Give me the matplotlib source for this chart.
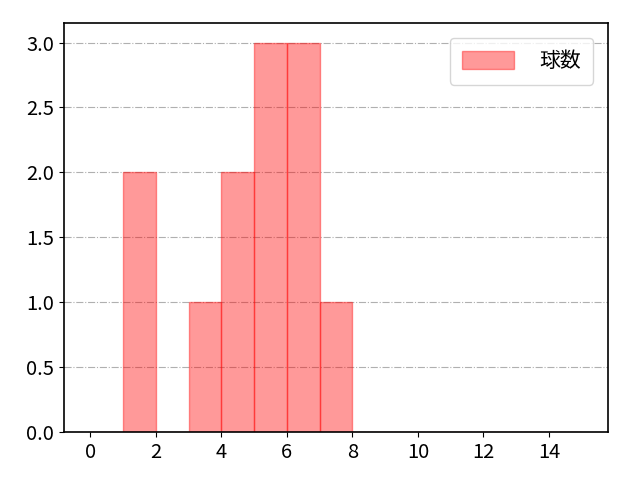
import matplotlib.pyplot as plt
import numpy as np

plt.rcParams['font.family'] = ['Noto Sans CJK JP', 'DejaVu Sans']

# histogram bins (width 1) and counts
bin_edges = np.arange(0, 16)
counts = [0, 2, 0, 1, 2, 3, 3, 1, 0, 0, 0, 0, 0, 0, 0]
label = '球数'

fig, ax = plt.subplots(figsize=(6.4, 4.8), dpi=100)
ax.hist(bin_edges[:-1], bins=bin_edges, weights=counts,
        color='red', alpha=0.4, edgecolor='red', linewidth=1, label=label)

ax.set_xlim(-0.8, 15.8)
ax.set_xticks(range(0, 15, 2))
ax.grid(axis='y', linestyle='-.', color='#b0b0b0', linewidth=0.8)
ax.set_axisbelow(True)
ax.tick_params(labelsize=14.5)
for s in ax.spines.values():
    s.set_linewidth(1.2)
ax.legend(fontsize=15, loc='upper right', handlelength=2.5, handleheight=0.9,
          handletextpad=1.2, borderpad=0.6, borderaxespad=0.7)

plt.subplots_adjust(left=0.1, right=0.95, top=0.952, bottom=0.1)
plt.savefig('out.png')
